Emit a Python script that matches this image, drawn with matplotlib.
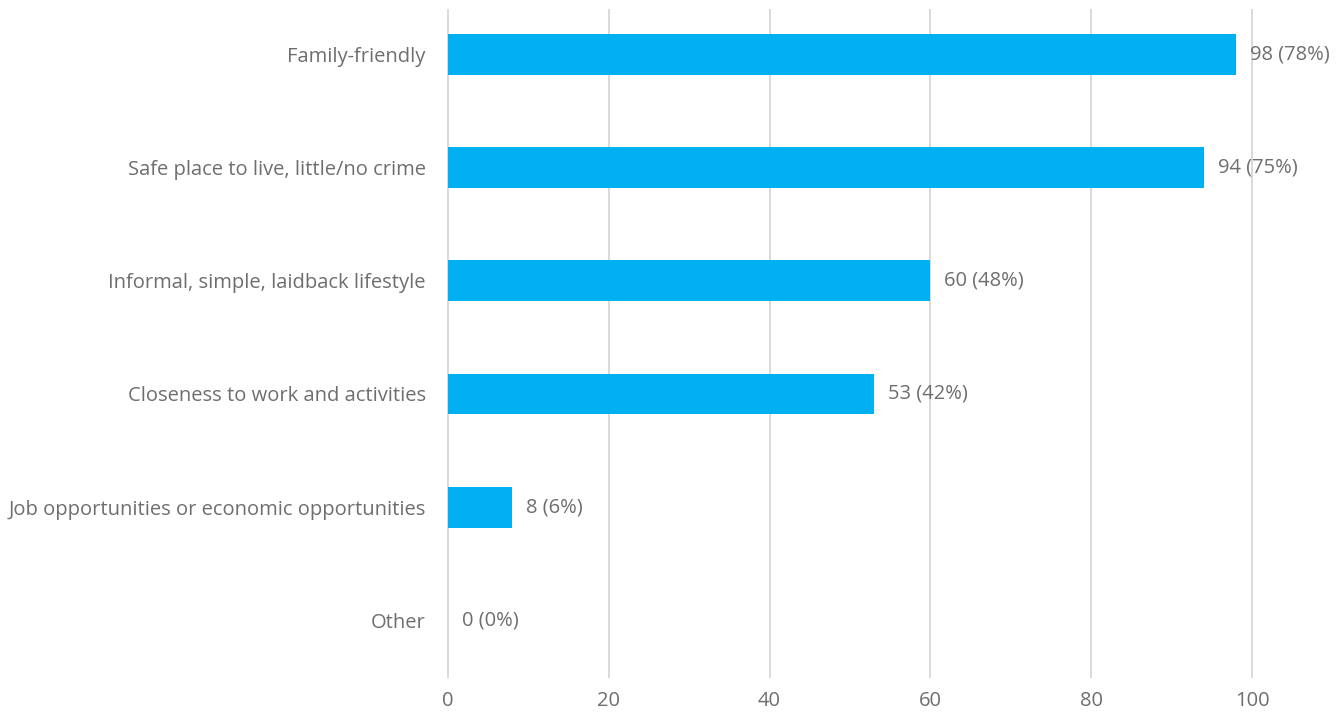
import matplotlib
matplotlib.use("Agg")
import matplotlib.pyplot as plt

categories = [
    "Family-friendly",
    "Safe place to live, little/no crime",
    "Informal, simple, laidback lifestyle",
    "Closeness to work and activities",
    "Job opportunities or economic opportunities",
    "Other",
]
counts = [98, 94, 60, 53, 8, 0]
percents = [78, 75, 48, 42, 6, 0]
x_ticks = [0, 20, 40, 60, 80, 100]

BAR_COLOR = "#00B0F0"
TEXT_COLOR = "#6E6E6E"
GRID_COLOR = "#D9D9D9"

plt.rcParams["font.family"] = ["Open Sans", "DejaVu Sans"]

W, H = 1343, 714
fig = plt.figure(figsize=(W / 100, H / 100), dpi=100)
left_px, right_px = 448, 1252
top_px, bottom_px = 10, 677
ax = fig.add_axes([left_px / W, 1 - bottom_px / H,
                   (right_px - left_px) / W, (bottom_px - top_px) / H])

n = len(categories)
ypos = list(range(n - 1, -1, -1))
ax.barh(ypos, counts, height=0.36, color=BAR_COLOR, zorder=3)

for y, c, p in zip(ypos, counts, percents):
    ax.annotate(f"{c} ({p}%)", xy=(c, y), xytext=(10, 0), textcoords="offset points",
                ha="left", va="center", fontsize=14.5, color=TEXT_COLOR, zorder=4)

ax.set_xlim(0, 100)
ax.set_ylim(-0.5, 5.39)
ax.set_xticks(x_ticks)
ax.set_xticklabels([str(t) for t in x_ticks])
ax.set_yticks(ypos)
ax.set_yticklabels(categories)

ax.tick_params(axis="x", length=0, pad=10, labelsize=14.5, labelcolor=TEXT_COLOR)
ax.tick_params(axis="y", length=0, pad=16, labelsize=14.5, labelcolor=TEXT_COLOR)

ax.grid(axis="x", color=GRID_COLOR, linewidth=1.4, zorder=0)
for gl in ax.get_xgridlines():
    gl.set_clip_on(False)
ax.grid(axis="y", visible=False)
for s in ax.spines.values():
    s.set_visible(False)

fig.savefig("out.png", dpi=100, facecolor="white")
